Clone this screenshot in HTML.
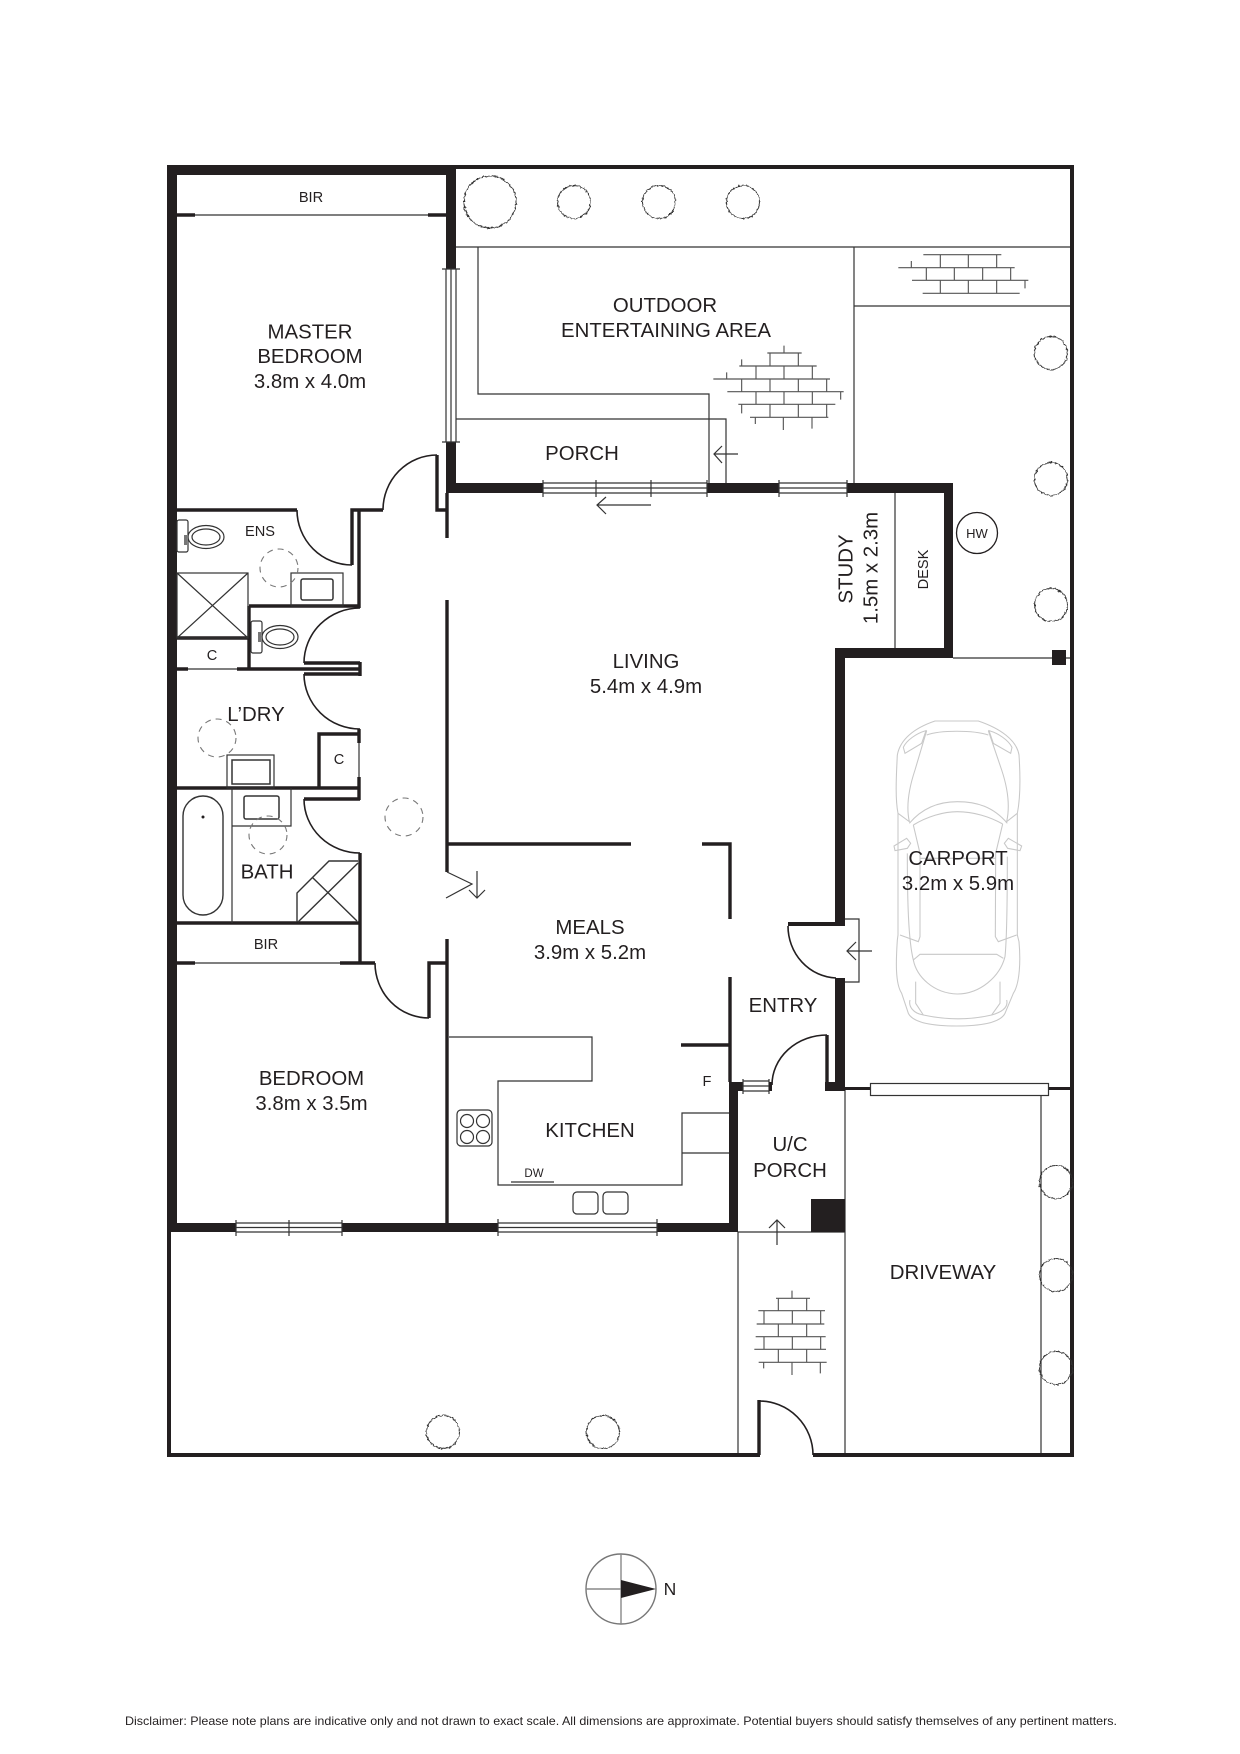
<!DOCTYPE html>
<html><head><meta charset="utf-8"><title>Floor plan</title>
<style>
html,body{margin:0;padding:0;background:#fff}
svg{display:block}
text{font-family:"Liberation Sans",Arial,sans-serif;fill:#231f20;text-anchor:middle}
.l{font-size:20.4px}.s{font-size:14.6px}
.t{fill:none;stroke:#333;stroke-width:1.2}
.m{fill:none;stroke:#231f20;stroke-width:3.4}
.a{fill:none;stroke:#231f20;stroke-width:1.6}
.w{fill:#231f20;stroke:none}
.d{fill:none;stroke:#777;stroke-width:1.1;stroke-dasharray:6 5}
.b{fill:none;stroke:#555;stroke-width:3.4}
.c{fill:none;stroke:#c8c8c8;stroke-width:3.2}
.tr{fill:none;stroke:#333;stroke-width:1}
</style></head>
<body>
<svg width="1240" height="1754" viewBox="0 0 1240 1754" xmlns="http://www.w3.org/2000/svg">
<defs>
<filter id="rough" x="-5%" y="-5%" width="110%" height="110%" filterUnits="objectBoundingBox">
<feTurbulence type="fractalNoise" baseFrequency="0.35" numOctaves="2" seed="4" result="n"/>
<feDisplacementMap in="SourceGraphic" in2="n" scale="3.2" xChannelSelector="R" yChannelSelector="G"/>
</filter>
</defs>
<rect width="1240" height="1754" fill="#fff"/>

<!-- thin site lines -->
<path class="t" d="M456 247H1070M478 247V394H709V483M456 419H726V483M854 247V483M854 306H1070M953 658H1070"/>
<path class="t" d="M895 493V648"/>
<path class="t" d="M845 1090V1455M738 1232V1455M738 1232H845M1041 1095V1455"/>

<!-- heavy outer walls -->
<rect class="w" x="167" y="165" width="10" height="1067"/>
<rect class="w" x="167" y="165" width="289" height="10"/>
<rect class="w" x="446" y="165" width="10" height="104"/>
<rect class="w" x="446" y="442" width="10" height="51"/>
<rect class="w" x="446" y="483" width="507" height="10"/>
<rect class="w" x="944" y="483" width="9" height="175"/>
<rect class="w" x="835" y="648" width="118" height="10"/>
<rect class="w" x="835" y="648" width="10" height="275"/>
<rect class="w" x="788" y="922" width="57" height="4"/>
<rect class="w" x="835" y="978" width="10" height="112"/>
<rect class="w" x="825" y="1082" width="20" height="9"/>
<rect class="w" x="729" y="1082" width="9" height="150"/>
<rect class="w" x="167" y="1223" width="571" height="9"/>
<rect class="w" x="456" y="165" width="618" height="4"/>
<rect class="w" x="1070" y="165" width="4" height="1292"/>
<rect class="w" x="167" y="1232" width="4" height="225"/>
<rect class="w" x="167" y="1453" width="593" height="4"/>
<rect class="w" x="813" y="1453" width="261" height="4"/>
<rect class="w" x="845" y="1087" width="226" height="3"/>
<rect class="w" x="811" y="1199" width="34" height="33"/>
<rect class="w" x="1052" y="650" width="14" height="15"/>

<!-- interior walls -->
<path class="m" d="M447 493V538M447 600V872M447 939V1223M447 844H631M702 844H730V919M730 977V1082M681 1045H730"/>
<path class="m" d="M177 510H297M352 565V510H383M437 455V510H446M359 510V608M249 606H360M249 606V669"/>
<path class="m" d="M237 669H360M304 663H360M304 674H360M360 662V676"/>
<path class="m" d="M177 638H249M177 788H360M304 799H360M359 777V800M319 788V734H360M359 729V743M360 853V963M177 923H360"/>
<path class="m" d="M177 669H188M429 1018V963H447M827 1035V1082M759 1400V1455"/>
<path class="m" d="M177 215H195M428 215H446M177 963H195M340 963H375" stroke-width="4"/>
<path class="t" d="M195 215H428M188 669H237M195 963H340M359 743V777"/>

<!-- door arcs -->
<path class="a" d="M383 510A54 55 0 0 1 437 455"/>
<path class="a" d="M297 510A55 55 0 0 0 352 565"/>
<path class="a" d="M304 663A56 55 0 0 1 360 608"/>
<path class="a" d="M304 674A56 55 0 0 0 360 729"/>
<path class="a" d="M304 799A56 54 0 0 0 360 853"/>
<path class="a" d="M375 963A54 55 0 0 0 429 1018"/>
<path class="a" d="M788 926A50 52 0 0 0 836 978"/>
<path class="a" d="M772 1085A55 50 0 0 1 827 1035"/>
<path class="a" d="M759 1401A54 54 0 0 1 813 1455"/>
<path class="t" d="M447 872L472 884L446 898" stroke-width="1.5"/>

<!-- windows -->
<g>
<path class="t" d="M446 269V442M451 269V442M456 269V442M442 269H460M442 442H460"/>
<rect x="543" y="483" width="164" height="10" fill="#fff"/>
<path class="t" d="M543 483H707M543 488H707M543 493H707M543 480V497M596 480V497M651 480V497M707 480V497"/>
<rect x="779" y="483" width="68" height="10" fill="#fff"/>
<path class="t" d="M779 483H847M779 493H847M779 480V497M847 480V497M779 488H847" stroke-width="1"/>
<rect x="236" y="1223" width="106" height="9" fill="#fff"/>
<path class="t" d="M236 1223H342M236 1227.5H342M236 1232H342M236 1220V1236M289 1220V1236M342 1220V1236"/>
<rect x="498" y="1223" width="159" height="9" fill="#fff"/>
<path class="t" d="M498 1223H657M498 1227.5H657M498 1232H657M498 1219V1236M657 1219V1236"/>
<rect x="738" y="1082" width="5" height="9" fill="#231f20"/>
<path class="t" d="M743 1079V1094M769 1079V1094M743 1081H769M743 1086H769M743 1091H769"/>
<rect class="w" x="769" y="1082" width="3" height="9"/>
<rect x="870.5" y="1083.5" width="178" height="12" fill="#fff" stroke="#333" stroke-width="1.2"/>
<path class="t" d="M845 919H859V982H845"/>
</g>

<!-- arrows -->
<path class="t" d="M738 454H714M722 446L714 454L722 463"/>
<path class="t" d="M651 505H597M606 497L597 505L606 514"/>
<path class="t" d="M477 871V897M469 890L477 898L485 890"/>
<path class="t" d="M872 951H847M856 942L847 951L856 960"/>
<path class="t" d="M777 1245V1220M769 1228L777 1220L785 1228"/>

<!-- ensuite fixtures -->
<g class="t">
<rect x="177" y="520" width="11" height="32" rx="2"/>
<ellipse cx="206" cy="537" rx="18" ry="11.5"/>
<ellipse cx="206" cy="537" rx="14" ry="8"/>
<rect x="177" y="573" width="71" height="65"/>
<path d="M177 573L248 638M248 573L177 638"/>
<rect x="291" y="573" width="52" height="33"/>
<rect x="301" y="579" width="32" height="21" rx="2" stroke-width="1.5"/>
<rect x="251" y="621" width="11" height="32" rx="2"/>
<ellipse cx="280" cy="637" rx="18" ry="11.5"/>
<ellipse cx="280" cy="637" rx="14" ry="8"/>
<rect x="227" y="755" width="47" height="33"/>
<rect x="232" y="760" width="38" height="24" stroke-width="1.5"/>
<rect x="183" y="796" width="40" height="119" rx="20" stroke-width="1.4"/>
<path d="M232 788V923"/>
<path d="M232 826H291V788"/>
<rect x="244" y="796" width="35" height="23" rx="2" stroke-width="1.5"/>
<path d="M297 922V893L329 861H358M298 922L358 863M313 878L357 921" stroke-width="1.4"/>
</g>
<rect x="184" y="535" width="3" height="10" fill="#777"/>
<rect x="258" y="632" width="3" height="10" fill="#777"/>
<circle cx="203" cy="817" r="1.5" fill="#231f20"/>
<circle class="d" cx="279" cy="568" r="19"/>
<circle class="d" cx="217" cy="738" r="19"/>
<circle class="d" cx="268" cy="835" r="19"/>
<circle class="d" cx="404" cy="817" r="19"/>

<!-- kitchen -->
<path class="t" d="M449 1037H592V1081H498V1185H682V1113H729M682 1153H729" stroke-width="1.4"/>
<rect class="t" x="457" y="1110" width="35" height="36" rx="4" stroke-width="1.4"/>
<g class="t"><circle cx="467" cy="1121" r="6.5"/><circle cx="483" cy="1121" r="6.5"/><circle cx="467" cy="1137" r="6.5"/><circle cx="483" cy="1137" r="6.5"/></g>
<path class="t" d="M511 1182H554" stroke-width="1.5"/>
<rect class="t" x="573" y="1192" width="25" height="22" rx="4" stroke-width="1.4"/>
<rect class="t" x="603" y="1192" width="25" height="22" rx="4" stroke-width="1.4"/>

<!-- trees -->
<g filter="url(#rough)">
<circle class="tr" cx="490" cy="202" r="26"/>
<circle class="tr" cx="574" cy="202" r="16.5"/>
<circle class="tr" cx="659" cy="202" r="16.5"/>
<circle class="tr" cx="743" cy="202" r="16.5"/>
<circle class="tr" cx="1051" cy="353" r="16.5"/>
<circle class="tr" cx="1051" cy="479" r="16.5"/>
<circle class="tr" cx="1051" cy="605" r="16.5"/>
<circle class="tr" cx="1056" cy="1182" r="16.5"/>
<circle class="tr" cx="1056" cy="1275" r="16.5"/>
<circle class="tr" cx="1056" cy="1368" r="16.5"/>
<circle class="tr" cx="443" cy="1432" r="16.5"/>
<circle class="tr" cx="603" cy="1432" r="16.5"/>
</g>
<circle cx="977" cy="533" r="20.5" fill="none" stroke="#231f20" stroke-width="1.3"/>

<!-- bricks -->
<g transform="translate(650 150) scale(.33333)" class="b">
<path d="M352 609H455M268 648H500M190 687H540M232 725H581M265 763H556M300 802H535M402 587V609M360 609V648M445 609V648M275 628V648M318 648V687M402 648V687M487 648V687M230 667V687M275 687V725M360 687V725M445 687V725M530 687V725M318 725V763M402 725V763M487 725V763M572 725V749M275 763V790M360 763V802M445 763V802M530 763V802M400 802V840M486 802V836M316 802V822"/>
<path d="M820 314H1054M745 353H1094M786 391H1135M818 430H1109M871 314V353M955 314V353M1040 314V353M784 333V353M829 353V391M913 353V391M998 353V391M1082 353V391M871 391V430M955 391V430M1040 391V430M1125 391V415"/>
</g>
<g transform="translate(700 1080) scale(.33333)" class="b">
<path d="M228 655H330M175 692H375M170 732H373M167 770H377M163 808H378M176 847H380M276 632V655M235 655V692M320 655V692M192 692V732M277 692V732M362 692V732M235 732V770M320 732V770M192 770V808M277 770V808M362 770V808M235 808V847M320 808V847M276 847V885M191 847V865M361 847V880"/>
</g>

<!-- car -->
<g transform="translate(820 640) scale(.33333)" class="c">
<path d="M345 243H475C540 265 590 300 597 345C602 420 600 480 592 520V885L597 905C602 960 600 1030 580 1060L555 1120C540 1150 480 1158 410 1158C340 1158 280 1150 265 1120L245 1060C225 1030 228 960 232 900L234 885V520C226 480 228 420 232 345C240 300 280 265 345 243Z"/>
<path d="M268 550C310 500 360 485 412 485C470 485 520 500 562 550M280 555C320 530 370 515 412 515C460 515 510 530 548 552"/>
<path d="M320 272L285 390C265 450 258 500 268 545L234 520M505 272L545 390C565 450 570 500 560 545L592 520"/>
<path d="M320 285C360 270 460 270 505 285"/>
<path d="M250 322C260 300 290 280 318 272L305 310L255 340ZM576 322C565 300 535 280 507 272L520 310L572 340Z"/>
<path d="M280 555L300 640V890L295 905L240 885M548 552L527 640L526 890L535 905L590 885"/>
<path d="M262 640C262 780 265 900 280 960C290 1010 340 1060 412 1062C480 1062 540 1010 555 950C560 900 562 780 562 650"/>
<path d="M280 960L300 943H530L550 955"/>
<path d="M287 1025V1090L310 1125M540 1025V1090L515 1125"/>
<path d="M270 1080C265 1100 280 1120 310 1125C380 1140 450 1140 515 1125C550 1115 565 1100 560 1080"/>
<path d="M222 618L260 595L272 610L262 625L225 632ZM605 618L565 595L553 610L563 625L600 632Z"/>
<path d="M300 655H527"/>
</g>

<!-- compass -->
<circle cx="621" cy="1589" r="35" fill="none" stroke="#777" stroke-width="1.4"/>
<path d="M621 1554V1624M586 1589H621" stroke="#888" stroke-width="1.4" fill="none"/>
<path d="M621 1580L656 1589L621 1598Z" fill="#231f20"/>

<!-- labels -->
<text class="s" x="311" y="202">BIR</text>
<text class="l" x="310" y="338.5">MASTER</text>
<text class="l" x="310" y="363">BEDROOM</text>
<text class="l" x="310" y="388">3.8m x 4.0m</text>
<text class="l" x="665" y="312">OUTDOOR</text>
<text class="l" x="666" y="337">ENTERTAINING AREA</text>
<text class="l" x="582" y="460">PORCH</text>
<text class="s" x="260" y="536">ENS</text>
<text class="s" x="212" y="660">C</text>
<text class="s" x="339" y="764">C</text>
<text class="l" x="256" y="721">L’DRY</text>
<text class="l" x="267" y="878.5">BATH</text>
<text class="s" x="266" y="949">BIR</text>
<text class="l" x="311.5" y="1085">BEDROOM</text>
<text class="l" x="311.5" y="1110">3.8m x 3.5m</text>
<text class="l" x="646" y="668">LIVING</text>
<text class="l" x="646" y="693">5.4m x 4.9m</text>
<text class="l" transform="translate(852.5 569) rotate(-90)">STUDY</text>
<text class="l" transform="translate(877.5 568) rotate(-90)">1.5m x 2.3m</text>
<text class="s" transform="translate(928 569.5) rotate(-90)">DESK</text>
<text x="977" y="538" font-size="13">HW</text>
<text class="l" x="590" y="934">MEALS</text>
<text class="l" x="590" y="959">3.9m x 5.2m</text>
<text class="l" x="783" y="1012">ENTRY</text>
<text class="l" x="590" y="1137">KITCHEN</text>
<text class="s" x="707" y="1086">F</text>
<text x="534" y="1177" font-size="11.5">DW</text>
<text class="l" x="790" y="1151">U/C</text>
<text class="l" x="790" y="1177">PORCH</text>
<text class="l" x="958" y="865">CARPORT</text>
<text class="l" x="958" y="890">3.2m x 5.9m</text>
<text class="l" x="943" y="1279">DRIVEWAY</text>
<text x="670" y="1595" font-size="17.5">N</text>
<text x="621" y="1725" font-size="11.7" textLength="992" lengthAdjust="spacingAndGlyphs">Disclaimer: Please note plans are indicative only and not drawn to exact scale. All dimensions are approximate. Potential buyers should satisfy themselves of any pertinent matters.</text>
</svg>
</body></html>
